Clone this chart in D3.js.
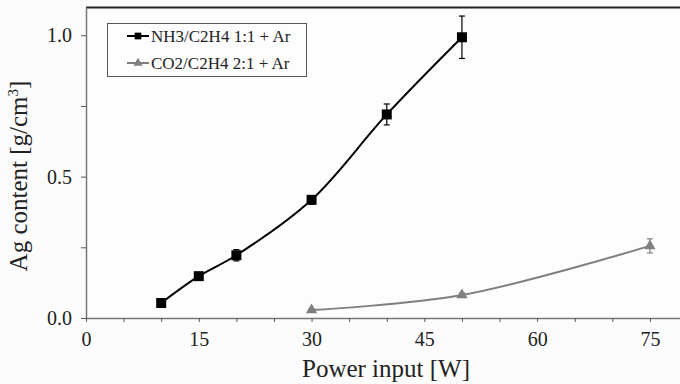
<!DOCTYPE html>
<html>
<head>
<meta charset="utf-8">
<script src="https://cdn.jsdelivr.net/npm/d3@7"></script>
<style>
  body { margin: 0; background: #fcfcfc; }
  svg { display: block; font-family: "Liberation Serif", "DejaVu Serif", serif; }
  svg text { font-family: "Liberation Serif", "DejaVu Serif", serif !important; }
</style>
</head>
<body>
<svg id="chart" width="680" height="384"></svg>
<script>
// NH3/C2H4 series
const power1 = [10, 15, 20, 30, 40, 50];
const ag1 = [0.053, 0.148, 0.222, 0.418, 0.72, 0.993];
const err1 = [0.005, 0.01, 0.02, 0.015, 0.037, 0.075];
// CO2/C2H4 series
const power2 = [30, 50, 75];
const ag2 = [0.028, 0.081, 0.255];
const err2 = [0.005, 0.008, 0.025];

const xTicks = [0, 15, 30, 45, 60, 75];
const yTicks = [0, 0.5, 1.0];
const seriesNames = ["NH3/C2H4 1:1 + Ar", "CO2/C2H4 2:1 + Ar"];

const margin = { top: 7, right: 0, bottom: 66, left: 86 };
const width = 680, height = 384;

const svg = d3.select("#chart");

const x = d3.scaleLinear().domain([0, 79]).range([margin.left, width - margin.right]);
const y = d3.scaleLinear().domain([0, 1.1]).range([height - margin.bottom, margin.top]);

// plot background
svg.append("rect")
  .attr("x", margin.left).attr("y", margin.top)
  .attr("width", width - margin.left - margin.right)
  .attr("height", y(0) - margin.top)
  .attr("fill", "#fdfdfd");

// top border
svg.append("line")
  .attr("x1", margin.left).attr("x2", width)
  .attr("y1", margin.top + 0.5).attr("y2", margin.top + 0.5)
  .attr("stroke", "#222").attr("stroke-width", 2);

// x axis with minor ticks
const xAxis = svg.append("g")
  .attr("transform", "translate(0," + y(0) + ")")
  .call(d3.axisBottom(x).tickValues(d3.range(0, 80, 5)).tickSize(4).tickSizeOuter(0)
    .tickFormat(d => xTicks.includes(d) ? d : ""));
xAxis.attr("font-family", null);
xAxis.select(".domain").attr("stroke", "#777").attr("stroke-width", 1.5);
xAxis.selectAll(".tick line").attr("stroke", "#555");
xAxis.selectAll(".tick text").attr("font-size", 20).attr("fill", "#222")
  .attr("y", 28).attr("dy", 0);

// y axis
const yAxis = svg.append("g")
  .attr("transform", "translate(" + margin.left + ",0)")
  .call(d3.axisLeft(y).tickValues([0, 0.25, 0.5, 0.75, 1.0]).tickSize(5).tickSizeOuter(0)
    .tickFormat(d => yTicks.includes(d) ? d3.format(".1f")(d) : ""));
yAxis.attr("font-family", null);
yAxis.select(".domain").attr("stroke", "#777").attr("stroke-width", 1.5);
yAxis.selectAll(".tick line").attr("stroke", "#555");
yAxis.selectAll(".tick text").attr("font-size", 20).attr("fill", "#222")
  .attr("x", -14).attr("dy", "0.33em");

// axis titles
svg.append("text")
  .attr("x", 386).attr("y", 377)
  .attr("text-anchor", "middle")
  .attr("font-size", 25).attr("fill", "#222")
  .text("Power input [W]");

const yt = svg.append("text")
  .attr("transform", "translate(27," + 176 + ") rotate(-90)")
  .attr("text-anchor", "middle")
  .attr("font-size", 25).attr("fill", "#222");
yt.append("tspan").text("Ag content [g/cm");
yt.append("tspan").attr("font-size", 15).attr("dy", "-0.6em").text("3");
yt.append("tspan").attr("dy", "0.36em").text("]");

const line = d3.line().x(d => x(d[0])).y(d => y(d[1])).curve(d3.curveCatmullRom.alpha(0.5));

function drawSeries(px, py, pe, color, symbol, size) {
  const pts = px.map((v, i) => [v, py[i], pe[i]]);
  const g = svg.append("g");
  g.append("path").datum(pts)
    .attr("d", line).attr("fill", "none")
    .attr("stroke", color).attr("stroke-width", 2);
  // error bars
  const eb = g.selectAll(".eb").data(pts).join("g");
  eb.append("line")
    .attr("x1", d => x(d[0])).attr("x2", d => x(d[0]))
    .attr("y1", d => y(d[1] - d[2])).attr("y2", d => y(d[1] + d[2]))
    .attr("stroke", color).attr("stroke-width", 1.2);
  eb.append("line")
    .attr("x1", d => x(d[0]) - 3).attr("x2", d => x(d[0]) + 3)
    .attr("y1", d => y(d[1] + d[2])).attr("y2", d => y(d[1] + d[2]))
    .attr("stroke", color).attr("stroke-width", 1.2);
  eb.append("line")
    .attr("x1", d => x(d[0]) - 3).attr("x2", d => x(d[0]) + 3)
    .attr("y1", d => y(d[1] - d[2])).attr("y2", d => y(d[1] - d[2]))
    .attr("stroke", color).attr("stroke-width", 1.2);
  g.selectAll(".pt").data(pts).join("path")
    .attr("transform", d => "translate(" + x(d[0]) + "," + y(d[1]) + ")")
    .attr("d", d3.symbol().type(symbol).size(size))
    .attr("fill", color);
}

drawSeries(power1, ag1, err1, "#000", d3.symbolSquare, 100);
drawSeries(power2, ag2, err2, "#7f7f7f", d3.symbolTriangle, 55);

// legend
const lg = svg.append("g");
lg.append("rect")
  .attr("x", 107.5).attr("y", 23.5).attr("width", 199).attr("height", 53)
  .attr("fill", "#fdfdfd").attr("stroke", "#555").attr("stroke-width", 1);
const legendItems = [
  { name: seriesNames[0], color: "#000", symbol: d3.symbolSquare, size: 45 },
  { name: seriesNames[1], color: "#7f7f7f", symbol: d3.symbolTriangle, size: 36 }
];
legendItems.forEach((d, i) => {
  const ly = 36 + i * 27;
  lg.append("line").attr("x1", 127).attr("x2", 149).attr("y1", ly).attr("y2", ly)
    .attr("stroke", d.color).attr("stroke-width", 2);
  lg.append("path").attr("transform", "translate(138," + ly + ")")
    .attr("d", d3.symbol().type(d.symbol).size(d.size)).attr("fill", d.color);
  lg.append("text").attr("x", 151).attr("y", ly + 5.5)
    .attr("font-size", 17).attr("fill", "#222").text(d.name);
});
</script>
</body>
</html>
